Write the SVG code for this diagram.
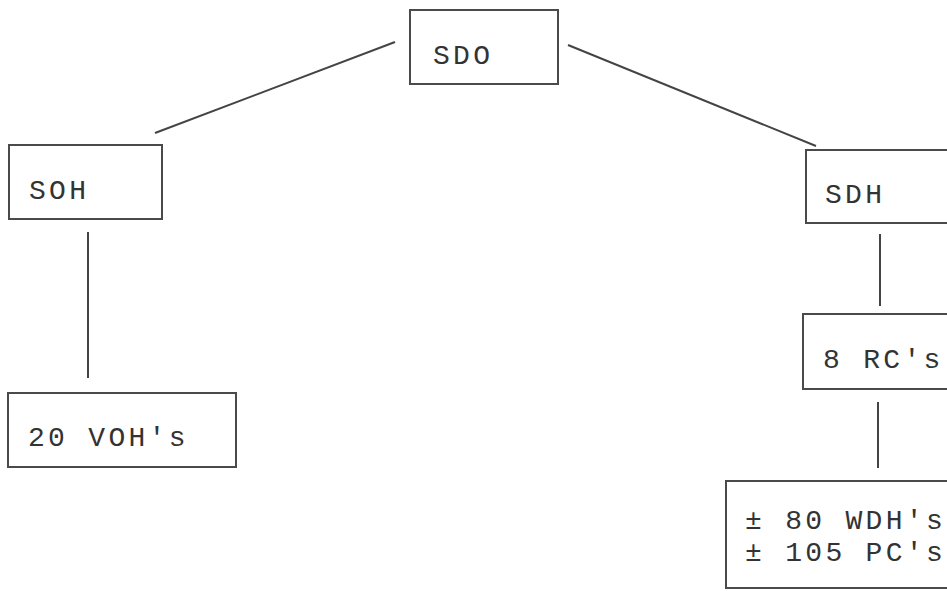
<svg xmlns="http://www.w3.org/2000/svg" width="947" height="591" viewBox="0 0 947 591">
<style>
.box{fill:none;stroke:#4a4a4a;stroke-width:2}
.lbl{font-family:"Liberation Mono","Courier New",monospace;font-size:28px;letter-spacing:3.3px;fill:#333}
.con{stroke:#444;stroke-width:2;fill:none}
</style>
<rect width="947" height="591" fill="#ffffff"/>
<g id="connectors">
<line class="con" x1="395" y1="42" x2="155" y2="133"/>
<line class="con" x1="568" y1="45" x2="816" y2="146"/>
<line class="con" x1="88" y1="232" x2="88" y2="378"/>
<line class="con" x1="880" y1="234" x2="880" y2="306"/>
<line class="con" x1="878" y1="402" x2="878" y2="468"/>
</g>
<g id="sdo"><rect class="box" x="410" y="10" width="148" height="74"/><text class="lbl" x="433" y="64">SDO</text></g>
<g id="soh"><rect class="box" x="9" y="145" width="153" height="74"/><text class="lbl" x="29" y="199">SOH</text></g>
<g id="sdh"><rect class="box" x="806" y="150" width="150" height="73"/><text class="lbl" x="825" y="203">SDH</text></g>
<g id="rc"><rect class="box" x="803" y="314" width="153" height="75"/><text class="lbl" x="823" y="368">8 RC's</text></g>
<g id="voh"><rect class="box" x="8" y="393" width="228" height="74"/><text class="lbl" x="28" y="446">20 VOH's</text></g>
<g id="wdh"><rect class="box" x="726" y="481" width="230" height="107"/><text class="lbl" x="745" y="529">± 80 WDH's</text><text class="lbl" x="745" y="561">± 105 PC's</text></g>
</svg>
